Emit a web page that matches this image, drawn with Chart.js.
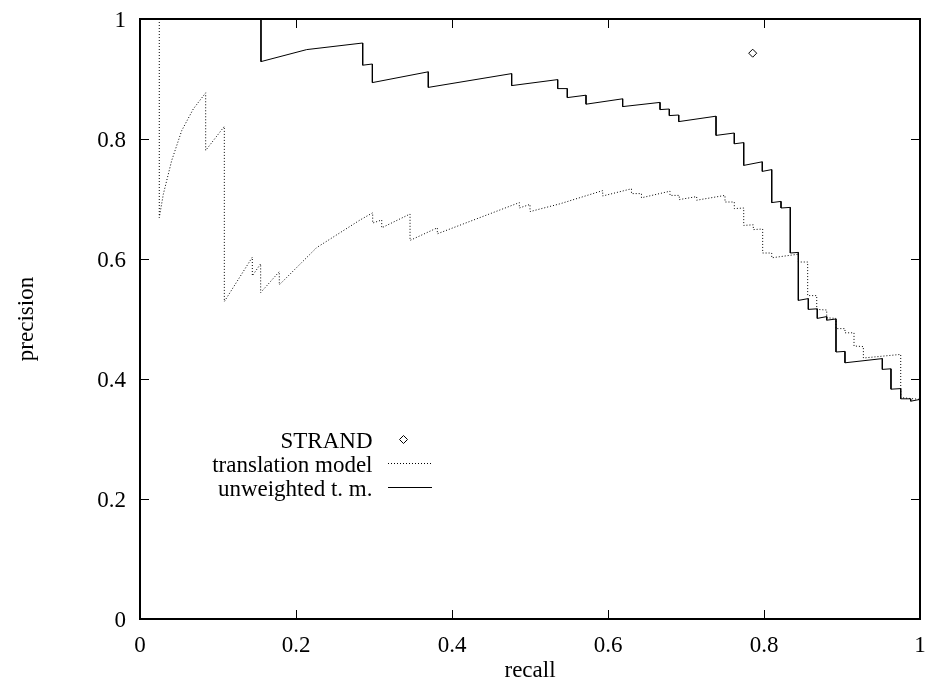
<!DOCTYPE html>
<html>
<head>
<meta charset="utf-8">
<script src="https://cdn.jsdelivr.net/npm/chart.js@4.4.1/dist/chart.umd.min.js"></script>
<style>
  html, body { margin: 0; padding: 0; background: #fff; }
  #wrap { width: 925px; height: 681px; }
</style>
</head>
<body>
<div id="wrap"><canvas id="prChart" width="925" height="681"></canvas></div>
<script>
// values
const tickValues = [0, 0.2, 0.4, 0.6, 0.8, 1];
const tickLabels = ['0', '0.2', '0.4', '0.6', '0.8', '1'];

const strandRecall = [0.7855];
const strandPrecision = [0.943];

const transRecall = [
  0.0247, 0.0247, 0.0299, 0.0406, 0.0535, 0.0683, 0.0842, 0.0842, 0.1081, 0.1081,
  0.1440, 0.1440, 0.1547, 0.1547, 0.1786, 0.1786, 0.2265, 0.2821, 0.2983, 0.2983,
  0.3099, 0.3099, 0.3462, 0.3462, 0.3812, 0.3812, 0.4863, 0.4863, 0.5000, 0.5000,
  0.5385, 0.5932, 0.5932, 0.6301, 0.6301, 0.6429, 0.6429, 0.6795, 0.6795, 0.6914,
  0.6914, 0.7137, 0.7137, 0.7500, 0.7500, 0.7619, 0.7619, 0.7740, 0.7740, 0.7863,
  0.7863, 0.7983, 0.7983, 0.8099, 0.8099, 0.8440, 0.8440, 0.8560, 0.8560, 0.8676,
  0.8676, 0.8804, 0.8804, 0.8923, 0.8923, 0.9038, 0.9038, 0.9154, 0.9154, 0.9274,
  0.9274, 0.9753, 0.9753, 1.0000
];
const transPrecision = [
  1.000, 0.669, 0.708, 0.764, 0.814, 0.850, 0.877, 0.781, 0.821, 0.529,
  0.603, 0.572, 0.592, 0.544, 0.579, 0.557, 0.619, 0.665, 0.677, 0.660,
  0.665, 0.652, 0.675, 0.631, 0.652, 0.642, 0.694, 0.685, 0.691, 0.679,
  0.692, 0.714, 0.705, 0.717, 0.709, 0.709, 0.702, 0.713, 0.706, 0.706,
  0.699, 0.704, 0.698, 0.706, 0.695, 0.695, 0.684, 0.685, 0.656, 0.657,
  0.649, 0.650, 0.610, 0.610, 0.602, 0.608, 0.595, 0.595, 0.539, 0.539,
  0.516, 0.515, 0.502, 0.501, 0.484, 0.484, 0.477, 0.477, 0.455, 0.454,
  0.435, 0.441, 0.369, 0.366
];

const unwRecall = [
  0.1551, 0.1551, 0.2137, 0.2855, 0.2855, 0.2979, 0.2979, 0.3696, 0.3696, 0.4765,
  0.4765, 0.5355, 0.5355, 0.5478, 0.5478, 0.5718, 0.5718, 0.6188, 0.6188, 0.6667,
  0.6667, 0.6786, 0.6786, 0.6907, 0.6907, 0.7385, 0.7385, 0.7619, 0.7619, 0.7740,
  0.7740, 0.7978, 0.7978, 0.8099, 0.8099, 0.8218, 0.8218, 0.8337, 0.8337, 0.8440,
  0.8440, 0.8568, 0.8568, 0.8683, 0.8683, 0.8804, 0.8804, 0.8923, 0.8923, 0.9038,
  0.9038, 0.9517, 0.9517, 0.9628, 0.9628, 0.9753, 0.9753, 0.9881, 0.9881, 1.0000
];
const unwPrecision = [
  1.000, 0.929, 0.949, 0.960, 0.923, 0.925, 0.894, 0.912, 0.886, 0.909,
  0.889, 0.899, 0.884, 0.884, 0.869, 0.873, 0.858, 0.867, 0.854, 0.861,
  0.849, 0.850, 0.839, 0.840, 0.829, 0.838, 0.806, 0.810, 0.792, 0.794,
  0.756, 0.762, 0.746, 0.749, 0.694, 0.696, 0.685, 0.686, 0.610, 0.611,
  0.531, 0.534, 0.516, 0.517, 0.501, 0.504, 0.498, 0.500, 0.445, 0.446,
  0.427, 0.434, 0.416, 0.417, 0.383, 0.384, 0.367, 0.367, 0.363, 0.366
];

const legendLabels = ['STRAND', 'translation model', 'unweighted t. m.'];

const FONT = '"Liberation Serif", "Times New Roman", serif';

const toPoints = (xs, ys) => xs.map((x, i) => ({ x: x, y: ys[i] }));

// frame, inward ticks, tick labels, axis titles and key, gnuplot style
const framePlugin = {
  id: 'frame',
  afterDraw(chart) {
    const ctx = chart.ctx;
    const a = chart.chartArea;
    const xs = chart.scales.x;
    const ys = chart.scales.y;
    ctx.save();
    ctx.strokeStyle = '#000';
    ctx.fillStyle = '#000';
    ctx.lineWidth = 1;
    ctx.beginPath();
    tickValues.forEach(v => {
      const px = Math.round(xs.getPixelForValue(v)) + 0.5;
      ctx.moveTo(px, a.bottom); ctx.lineTo(px, a.bottom - 9);
      ctx.moveTo(px, a.top); ctx.lineTo(px, a.top + 9);
      const py = Math.round(ys.getPixelForValue(v)) + 0.5;
      ctx.moveTo(a.left, py); ctx.lineTo(a.left + 9, py);
      ctx.moveTo(a.right, py); ctx.lineTo(a.right - 9, py);
    });
    ctx.stroke();
    ctx.lineWidth = 2;
    ctx.strokeRect(a.left, a.top, a.right - a.left, a.bottom - a.top);

    ctx.font = '23px ' + FONT;
    ctx.textBaseline = 'alphabetic';
    ctx.textAlign = 'center';
    tickValues.forEach((v, i) => {
      ctx.fillText(tickLabels[i], xs.getPixelForValue(v), a.bottom + 33);
    });
    ctx.textAlign = 'right';
    tickValues.forEach((v, i) => {
      ctx.fillText(tickLabels[i], a.left - 14, ys.getPixelForValue(v) + 8);
    });

    ctx.textAlign = 'center';
    ctx.fillText('recall', (a.left + a.right) / 2, 676.5);
    ctx.save();
    ctx.translate(33, (a.top + a.bottom) / 2);
    ctx.rotate(-Math.PI / 2);
    ctx.fillText('precision', 0, 0);
    ctx.restore();

    // key
    ctx.textAlign = 'right';
    ctx.fillText(legendLabels[0], 372.5, 448);
    ctx.fillText(legendLabels[1], 372.5, 472);
    ctx.fillText(legendLabels[2], 372.5, 496);

    ctx.lineWidth = 1;
    ctx.beginPath();
    ctx.moveTo(403.5, 435.5); ctx.lineTo(407.5, 439.5);
    ctx.lineTo(403.5, 443.5); ctx.lineTo(399.5, 439.5);
    ctx.closePath();
    ctx.stroke();

    ctx.setLineDash([1, 2]);
    ctx.beginPath();
    ctx.moveTo(388, 463.5); ctx.lineTo(432, 463.5);
    ctx.stroke();
    ctx.setLineDash([]);
    ctx.beginPath();
    ctx.moveTo(388, 487.5); ctx.lineTo(432, 487.5);
    ctx.stroke();
    ctx.restore();
  }
};

const ctxPr = document.getElementById('prChart').getContext('2d');
const prChart = new Chart(ctxPr, {
  type: 'scatter',
  data: {
    datasets: [
      {
        label: legendLabels[0],
        data: toPoints(strandRecall, strandPrecision),
        showLine: false,
        pointStyle: 'rectRot',
        pointRadius: 4,
        borderWidth: 1,
        borderColor: '#000',
        backgroundColor: '#fff'
      },
      {
        label: legendLabels[1],
        data: toPoints(transRecall, transPrecision),
        showLine: true,
        borderColor: '#000',
        borderWidth: 1,
        borderDash: [1, 2],
        pointRadius: 0,
        tension: 0
      },
      {
        label: legendLabels[2],
        data: toPoints(unwRecall, unwPrecision),
        showLine: true,
        borderColor: '#000',
        borderWidth: 1,
        pointRadius: 0,
        tension: 0
      }
    ]
  },
  options: {
    responsive: false,
    animation: false,
    layout: { padding: { left: 0, right: 5, top: 19, bottom: 0 } },
    plugins: {
      legend: { display: false },
      tooltip: { enabled: false }
    },
    scales: {
      x: {
        type: 'linear',
        min: 0,
        max: 1,
        grid: { display: false, drawTicks: false },
        border: { display: false },
        ticks: { display: false },
        afterFit: (s) => { s.height = 62; }
      },
      y: {
        type: 'linear',
        min: 0,
        max: 1,
        grid: { display: false, drawTicks: false },
        border: { display: false },
        ticks: { display: false },
        afterFit: (s) => { s.width = 140; }
      }
    }
  },
  plugins: [framePlugin]
});
</script>
</body>
</html>
